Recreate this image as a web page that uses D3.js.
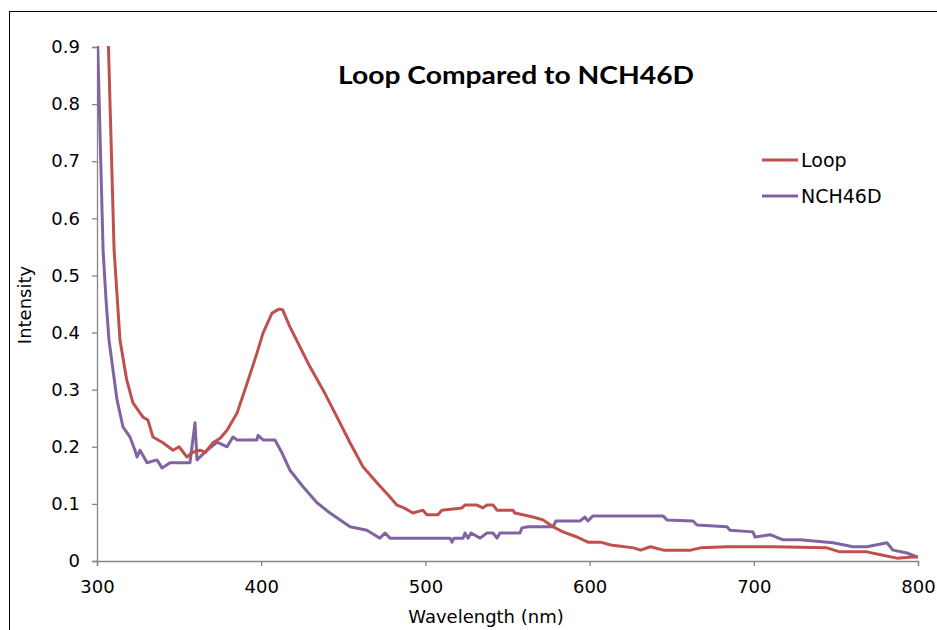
<!DOCTYPE html>
<html>
<head>
<meta charset="utf-8">
<script src="https://cdn.jsdelivr.net/npm/d3@7/dist/d3.min.js"></script>
<style>
  body { margin: 0; background: #fff; }
  text { font-family: "DejaVu Sans", "Liberation Sans", Arial, sans-serif; fill: #000; }
</style>
</head>
<body>
<svg id="chart"></svg>
<script>
// values
const loopWl = [306.5, 310.4, 314, 318.1, 321.9, 328, 331, 334.1, 340.2, 346.3, 350, 354.8, 358, 362.7, 366, 370.6, 375, 379.2, 385.3, 391.4, 397.4, 401.1, 406.6, 410.8, 413, 417.5, 423.6, 429.7, 437.6, 446.2, 454.1, 462, 470.5, 478.4, 482.6, 487, 492.4, 498.5, 500.9, 507.6, 510, 522.2, 524.1, 531.4, 535, 537.5, 541.2, 543.6, 553.3, 554.5, 565.5, 571.6, 577.7, 583.8, 592.3, 599, 606.7, 612.8, 626.8, 631, 637.1, 645, 661.5, 667.6, 683.7, 711.7, 744.5, 752.4, 768.9, 778.6, 787.1, 796.8, 800];
const loopVal = [0.95, 0.545, 0.387, 0.317, 0.277, 0.252, 0.247, 0.217, 0.207, 0.194, 0.2, 0.182, 0.19, 0.194, 0.19, 0.207, 0.215, 0.229, 0.259, 0.311, 0.364, 0.399, 0.434, 0.441, 0.44, 0.41, 0.375, 0.34, 0.3, 0.252, 0.207, 0.165, 0.137, 0.112, 0.098, 0.093, 0.084, 0.089, 0.081, 0.081, 0.089, 0.093, 0.098, 0.098, 0.093, 0.098, 0.098, 0.089, 0.089, 0.084, 0.077, 0.072, 0.06, 0.051, 0.042, 0.033, 0.033, 0.028, 0.023, 0.019, 0.025, 0.019, 0.019, 0.023, 0.025, 0.025, 0.023, 0.016, 0.016, 0.01, 0.005, 0.007, 0.007];

const nchWl = [300, 303.7, 305.5, 307.3, 312.2, 315.8, 320.1, 323.1, 324.4, 326.2, 330.5, 336.5, 339.6, 344.5, 356.6, 359.7, 360.9, 367, 373.1, 379.2, 382.8, 385.3, 397.4, 398.1, 401.1, 408.4, 412.7, 417.5, 425.5, 434, 441.9, 454.1, 464.4, 472.3, 475.4, 478.4, 515, 516.2, 517.4, 522.9, 524.1, 526, 527.8, 533.3, 537.5, 541.2, 543.6, 545.4, 557.6, 558.8, 562.5, 577.7, 579.5, 594.2, 597.2, 599, 602, 644.7, 647.1, 663, 665.4, 683.7, 685.5, 699.5, 700.7, 709.9, 717.8, 728.1, 748.2, 760.4, 768.9, 781.1, 784.7, 793.3, 799.4];
const nchVal = [0.95, 0.545, 0.457, 0.387, 0.282, 0.235, 0.217, 0.194, 0.182, 0.194, 0.172, 0.177, 0.163, 0.172, 0.172, 0.242, 0.177, 0.194, 0.208, 0.2, 0.217, 0.212, 0.212, 0.22, 0.212, 0.212, 0.189, 0.159, 0.13, 0.102, 0.084, 0.06, 0.054, 0.04, 0.049, 0.04, 0.04, 0.033, 0.04, 0.04, 0.049, 0.04, 0.049, 0.04, 0.049, 0.049, 0.04, 0.049, 0.049, 0.058, 0.06, 0.06, 0.07, 0.07, 0.077, 0.07, 0.079, 0.079, 0.072, 0.07, 0.063, 0.06, 0.054, 0.051, 0.042, 0.046, 0.037, 0.037, 0.032, 0.025, 0.025, 0.032, 0.019, 0.014, 0.007];

const xTicks = [300, 400, 500, 600, 700, 800];
const yTicks = [0, 0.1, 0.2, 0.3, 0.4, 0.5, 0.6, 0.7, 0.8, 0.9];
const seriesNames = ["Loop", "NCH46D"];
const seriesColors = ["#C0504D", "#8064A2"];

const width = 937, height = 630;
const margin = { left: 97, right: 19, top: 47, bottom: 69 };
const svg = d3.select("#chart").attr("width", width).attr("height", height);

// outer frame
svg.append("rect")
  .attr("x", 9.5).attr("y", 11.5)
  .attr("width", 960).attr("height", 660)
  .attr("fill", "none").attr("stroke", "#000").attr("stroke-width", 1);

const x = d3.scaleLinear().domain([300, 800]).range([margin.left, width - margin.right]);
const y = d3.scaleLinear().domain([0, 0.9]).range([height - margin.bottom, margin.top]);

svg.append("clipPath").attr("id", "plot")
  .append("rect")
  .attr("x", margin.left).attr("y", margin.top - 1)
  .attr("width", width - margin.right - margin.left + 2)
  .attr("height", height - margin.bottom - margin.top + 2);

// axes
const xAxis = d3.axisBottom(x).tickValues(xTicks).tickSize(5).tickPadding(14).tickFormat(d3.format("d"));
const gx = svg.append("g")
  .attr("transform", `translate(0,${height - margin.bottom})`)
  .call(xAxis);

const yAxis = d3.axisLeft(y).tickValues(yTicks).tickSize(5).tickPadding(12)
  .tickFormat(d => d === 0 ? "0" : d3.format(".1f")(d));
const gy = svg.append("g")
  .attr("transform", `translate(${margin.left},0)`)
  .call(yAxis);

[gx, gy].forEach(g => {
  g.selectAll("path, line").attr("stroke", "#868686").attr("stroke-width", 1.3);
  g.selectAll("text").attr("font-size", 18).attr("fill", "#000")
    .style("font-family", "'DejaVu Sans', 'Liberation Sans', Arial, sans-serif");
});

// lines
const series = [
  { name: seriesNames[0], color: seriesColors[0], pts: loopWl.map((w, i) => [w, loopVal[i]]) },
  { name: seriesNames[1], color: seriesColors[1], pts: nchWl.map((w, i) => [w, nchVal[i]]) }
];

const line = d3.line().x(d => x(d[0])).y(d => y(d[1]));

const plot = svg.append("g").attr("clip-path", "url(#plot)");
// purple first so red draws over where they cross
plot.selectAll("path.series")
  .data(series.slice().reverse())
  .enter().append("path")
  .attr("class", "series")
  .attr("d", d => line(d.pts))
  .attr("fill", "none")
  .attr("stroke", d => d.color)
  .attr("stroke-width", 3)
  .attr("stroke-linejoin", "round");

// title
svg.append("text")
  .attr("x", 516).attr("y", 84)
  .attr("text-anchor", "middle")
  .attr("font-size", 25)
  .attr("font-weight", "bold")
  .attr("textLength", 356)
  .attr("lengthAdjust", "spacingAndGlyphs")
  .style("font-family", "Lato, 'Open Sans', sans-serif")
  .text("Loop Compared to NCH46D");

// axis titles
svg.append("text")
  .attr("x", 486).attr("y", 623)
  .attr("text-anchor", "middle")
  .attr("font-size", 18)
  .text("Wavelength (nm)");

svg.append("text")
  .attr("transform", "translate(31,305) rotate(-90)")
  .attr("text-anchor", "middle")
  .attr("font-size", 18)
  .text("Intensity");

// legend
const legend = svg.append("g").attr("transform", "translate(762,160)");
series.forEach((s, i) => {
  const g = legend.append("g").attr("transform", `translate(0,${i * 36})`);
  g.append("line").attr("x1", 0).attr("x2", 36).attr("y1", 0).attr("y2", 0)
    .attr("stroke", s.color).attr("stroke-width", 3);
  g.append("text").attr("x", 39).attr("y", 7).attr("font-size", 19).text(s.name);
});
</script>
</body>
</html>
